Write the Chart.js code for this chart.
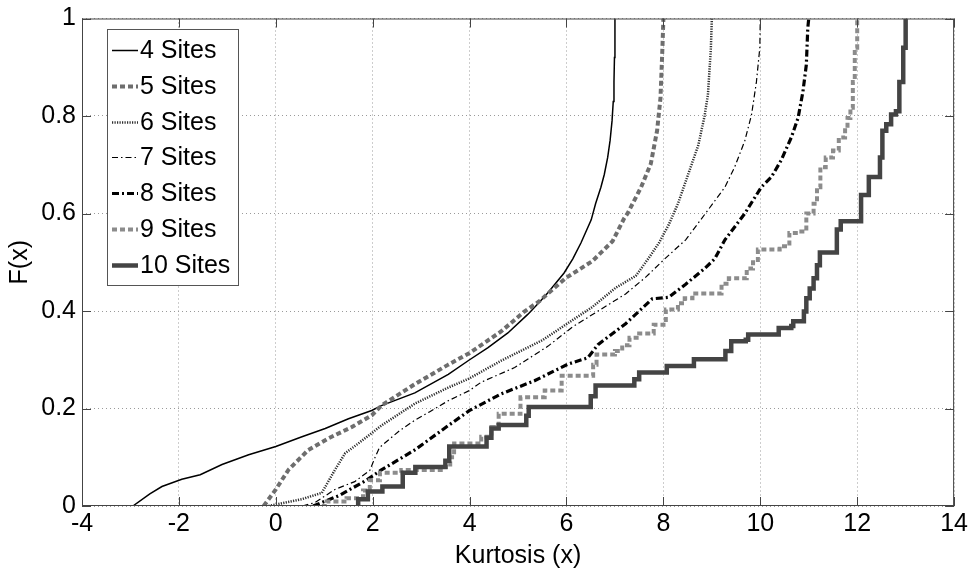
<!DOCTYPE html>
<html>
<head>
<meta charset="utf-8">
<title>Kurtosis CDF by number of sites</title>
<script src="https://cdn.jsdelivr.net/npm/chart.js@4.4.1/dist/chart.umd.min.js"></script>
<style>
  html, body { margin: 0; padding: 0; background: #fff; }
  #wrap { width: 974px; height: 571px; }
</style>
</head>
<body>
<div id="wrap"><canvas id="cdf" width="974" height="571"></canvas></div>
<script>
/* ── Data: [kurtosis, F(x)] ── */
const xTicks = [-4, -2, 0, 2, 4, 6, 8, 10, 12, 14];
const yTicks = [0, 0.2, 0.4, 0.6, 0.8, 1];
const seriesLabels = ["4 Sites", "5 Sites", "6 Sites", "7 Sites", "8 Sites", "9 Sites", "10 Sites"];

const sites4 = [[-2.95,0],[-2.6,0.025],[-2.35,0.04],[-1.94,0.055],[-1.56,0.064],[-1.11,0.085],[-0.56,0.105],
  [0,0.122],[0.54,0.142],[1.02,0.159],[1.5,0.179],[1.98,0.196],[2.18,0.206],[2.87,0.232],[3.56,0.27],
  [4.0,0.3],[4.38,0.325],[4.79,0.355],[5.2,0.393],[5.44,0.418],[5.62,0.438],[5.95,0.478],[6.13,0.507],
  [6.3,0.54],[6.51,0.587],[6.6,0.62],[6.71,0.654],[6.78,0.68],[6.85,0.715],[6.9,0.75],[6.94,0.79],
  [6.965,0.83],[6.98,0.871],[6.99,0.92],[7.0,1.0]];

const sites5 = [[-0.25,0],[0,0.034],[0.26,0.074],[0.67,0.115],[1.09,0.139],[1.57,0.162],[1.98,0.186],
  [2.18,0.206],[2.87,0.25],[3.56,0.29],[4.0,0.314],[4.65,0.358],[5.13,0.399],[5.44,0.42],[5.62,0.436],
  [5.99,0.468],[6.53,0.502],[6.95,0.543],[7.19,0.59],[7.26,0.6],[7.54,0.654],[7.74,0.702],[7.87,0.77],
  [7.94,0.837],[7.98,0.94],[8.0,1.0]];

const sites6 = [[-0.15,0],[0.54,0.014],[0.95,0.027],[1.22,0.074],[1.43,0.108],[1.7,0.128],[2.18,0.165],
  [2.87,0.21],[3.56,0.243],[4.0,0.262],[4.65,0.298],[5.5,0.34],[6.12,0.381],[6.53,0.408],[7.02,0.448],
  [7.43,0.472],[7.7,0.509],[7.91,0.54],[8.11,0.577],[8.3,0.62],[8.51,0.68],[8.72,0.74],[8.85,0.8],
  [8.92,0.845],[8.98,0.94],[9.0,1.0]];

const sites7 = [[0.55,0],[0.81,0.007],[1.22,0.034],[1.63,0.05],[1.94,0.073],[2.05,0.1],[2.14,0.12],
  [2.55,0.154],[2.87,0.176],[3.17,0.193],[3.56,0.216],[4.0,0.237],[4.24,0.254],[4.93,0.284],[5.62,0.328],
  [6.12,0.367],[6.67,0.401],[7.22,0.435],[7.63,0.469],[8.05,0.509],[8.46,0.546],[8.92,0.607],[9.27,0.654],
  [9.47,0.695],[9.68,0.749],[9.82,0.803],[9.92,0.87],[9.99,0.94],[10.0,1.0]];

const sites8 = [[0.77,0],[1.32,0.022],[1.87,0.053],[2.18,0.074],[2.87,0.115],[3.56,0.165],[4.0,0.196],
  [4.65,0.23],[5.34,0.257],[6.03,0.291],[6.44,0.304],[6.65,0.331],[7.22,0.374],[7.77,0.425],[8.11,0.428],
  [8.46,0.455],[8.85,0.487],[9.06,0.507],[9.27,0.546],[9.68,0.6],[10.02,0.654],[10.23,0.675],[10.43,0.709],
  [10.64,0.756],[10.78,0.796],[10.88,0.85],[10.95,0.905],[10.98,0.98],[11.0,1.0]];

// staircase series: [jump position, level after the jump]
const sites9 = [[0.95,0],[1.05,0.009],[1.46,0.016],[1.8,0.032],[1.94,0.053],[2.15,0.068],[2.59,0.074],
  [3.45,0.08],[3.6,0.1],[3.68,0.128],[4.24,0.142],[4.45,0.162],[4.6,0.189],[5.05,0.223],[5.55,0.237],
  [5.9,0.267],[6.55,0.29],[6.62,0.311],[7.0,0.318],[7.15,0.33],[7.3,0.345],[7.5,0.354],[7.8,0.372],
  [8.05,0.403],[8.3,0.416],[8.44,0.426],[8.6,0.436],[9.2,0.456],[9.35,0.467],[9.72,0.487],[9.85,0.5],
  [9.95,0.526],[10.4,0.533],[10.6,0.56],[10.8,0.563],[10.95,0.6],[11.1,0.62],[11.17,0.654],[11.24,0.695],
  [11.35,0.715],[11.5,0.729],[11.62,0.756],[11.75,0.776],[11.8,0.796],[11.86,0.817],[11.91,0.87],
  [11.95,0.94],[12.0,1.0]];

const sites10 = [[1.7,0],[1.7,0.014],[1.9,0.03],[2.2,0.04],[2.62,0.068],[2.88,0.08],[3.5,0.093],
  [3.58,0.122],[4.35,0.14],[4.45,0.159],[4.6,0.166],[5.17,0.185],[5.22,0.203],[6.5,0.225],[6.6,0.247],
  [7.4,0.26],[7.5,0.274],[8.07,0.287],[8.63,0.301],[9.28,0.318],[9.4,0.338],[9.7,0.341],[9.75,0.352],
  [10.38,0.365],[10.64,0.369],[10.68,0.379],[10.9,0.399],[10.95,0.426],[11.02,0.446],[11.1,0.467],
  [11.17,0.494],[11.23,0.52],[11.58,0.567],[11.66,0.584],[12.08,0.638],[12.24,0.675],[12.47,0.715],
  [12.52,0.77],[12.6,0.783],[12.7,0.803],[12.8,0.81],[12.87,0.87],[12.95,0.94],[13.0,1.0]];

const seriesData = [sites4, sites5, sites6, sites7, sites8, sites9, sites10];

/* ── Line styles (MATLAB-ish greyscale) ── */
const FONT = '"Liberation Sans", Arial, Helvetica, sans-serif';
const lineStyles = [
  { color: "#000000", width: 1.5, dash: [],             stepped: false },
  { color: "#6e6e6e", width: 4,   dash: [5, 3],         stepped: false },
  { color: "#2e2e2e", width: 2.5, dash: [1.2, 1.3],     stepped: false },
  { color: "#000000", width: 1.2, dash: [6, 3, 1.5, 3], stepped: false },
  { color: "#000000", width: 3.2, dash: [7, 3, 2, 3],   stepped: false },
  { color: "#8c8c8c", width: 4,   dash: [5, 3],         stepped: true },
  { color: "#444444", width: 4.5, dash: [],             stepped: true },
];

const datasets = seriesLabels.map((label, i) => ({
  label,
  data: seriesData[i].map(([x, y]) => ({ x, y })),
  borderColor: lineStyles[i].color,
  borderWidth: lineStyles[i].width,
  borderDash: lineStyles[i].dash,
  stepped: lineStyles[i].stepped,
  pointRadius: 0,
  fill: false,
  tension: 0,
  order: seriesLabels.length - i,
}));

// ── box + inward ticks, like MATLAB's "box on" ──
const framePlugin = {
  id: "frame",
  afterDatasetsDraw(chart) {
    const { ctx, chartArea: a, scales: { x, y } } = chart;
    const tl = 9;
    ctx.save();
    ctx.strokeStyle = "#444";
    ctx.lineWidth = 1;
    ctx.setLineDash([]);
    ctx.strokeRect(a.left + 0.5, a.top + 0.5, a.right - a.left - 1, a.bottom - a.top - 1);
    ctx.beginPath();
    x.ticks.forEach(t => {
      const px = Math.round(x.getPixelForValue(t.value)) + 0.5;
      ctx.moveTo(px, a.bottom); ctx.lineTo(px, a.bottom - tl);
      ctx.moveTo(px, a.top);    ctx.lineTo(px, a.top + tl);
    });
    y.ticks.forEach(t => {
      const py = Math.round(y.getPixelForValue(t.value)) + 0.5;
      ctx.moveTo(a.left, py);  ctx.lineTo(a.left + tl, py);
      ctx.moveTo(a.right, py); ctx.lineTo(a.right - tl, py);
    });
    ctx.stroke();
    ctx.restore();
  },
};

// ── legend drawn inside the axes (top-left) ──
const legendPlugin = {
  id: "insideLegend",
  afterDraw(chart) {
    const ctx = chart.ctx;
    const left = 107, top = 29, w = 131, h = 256, row = 35.8;
    ctx.save();
    ctx.fillStyle = "#fff";
    ctx.fillRect(left, top, w, h);
    ctx.strokeStyle = "#555";
    ctx.lineWidth = 1;
    ctx.setLineDash([]);
    ctx.strokeRect(left + 0.5, top + 0.5, w, h);
    ctx.font = `25px ${FONT}`;
    ctx.textBaseline = "middle";
    chart.data.datasets.forEach((ds, i) => {
      const cy = Math.round(top + 21 + i * row) + 0.5;
      ctx.beginPath();
      ctx.setLineDash(ds.borderDash);
      ctx.lineWidth = ds.borderWidth;
      ctx.strokeStyle = ds.borderColor;
      ctx.moveTo(left + 5, cy);
      ctx.lineTo(left + 31, cy);
      ctx.stroke();
      ctx.setLineDash([]);
      ctx.fillStyle = "#000";
      ctx.fillText(ds.label, left + 33, cy + 1);
    });
    ctx.restore();
  },
};

const tickFont = { family: FONT, size: 25, lineHeight: 1 };
const gridOpts = { color: "#9a9a9a", lineWidth: 1, drawTicks: false };
const plainNumber = v => String(Math.round(v * 10) / 10);

new Chart(document.getElementById("cdf"), {
  type: "line",
  data: { datasets },
  options: {
    responsive: false,
    animation: false,
    events: [],
    layout: { padding: { top: 13, right: 18, bottom: 0, left: 0 } },
    plugins: { legend: { display: false }, tooltip: { enabled: false } },
    scales: {
      x: {
        type: "linear",
        min: -4, max: 14,
        afterBuildTicks: s => { s.ticks = xTicks.map(v => ({ value: v })); },
        afterFit: s => { s.height = 65; },
        grid: gridOpts,
        border: { display: false, dash: [1, 3] },
        ticks: { color: "#000", font: tickFont, padding: 6, maxRotation: 0, autoSkip: false,
                 callback: plainNumber },
        title: { display: true, text: "Kurtosis (x)", color: "#000",
                 font: { family: FONT, size: 25 }, padding: { top: 0, bottom: 0 } },
      },
      y: {
        type: "linear",
        min: 0, max: 1,
        afterBuildTicks: s => { s.ticks = yTicks.map(v => ({ value: v })); },
        afterFit: s => { s.width = 82; },
        grid: gridOpts,
        border: { display: false, dash: [1, 3] },
        ticks: { color: "#000", font: tickFont, padding: 6, autoSkip: false, callback: plainNumber },
        title: { display: true, text: "F(x)", color: "#000",
                 font: { family: FONT, size: 25 }, padding: { top: 5, bottom: 0 } },
      },
    },
  },
  plugins: [framePlugin, legendPlugin],
});
</script>
</body>
</html>
